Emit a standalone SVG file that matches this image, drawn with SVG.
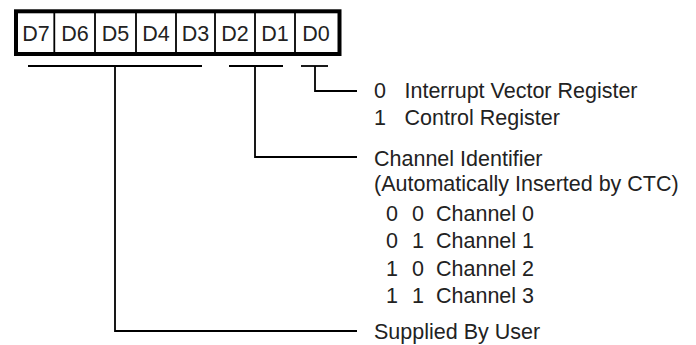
<svg xmlns="http://www.w3.org/2000/svg" width="696" height="345" viewBox="0 0 696 345">
<style>
  .t { font-family: "Liberation Sans", Arial, Helvetica, sans-serif; font-size: 21.5px; fill: #222; }
  .c { text-anchor: middle; }
  .ln { stroke: #000; stroke-width: 1.8; fill: none; }
</style>
<rect width="696" height="345" fill="#fff"/>
<g id="register">
  <rect x="16" y="11.3" width="323.5" height="42.7" fill="#fff" stroke="#000" stroke-width="4"/>
  <g class="ln">
    <line x1="54.3" y1="13" x2="54.3" y2="52"/>
    <line x1="95" y1="13" x2="95" y2="52"/>
    <line x1="136" y1="13" x2="136" y2="52"/>
    <line x1="176" y1="13" x2="176" y2="52"/>
    <line x1="215" y1="13" x2="215" y2="52"/>
    <line x1="255" y1="13" x2="255" y2="52"/>
    <line x1="295" y1="13" x2="295" y2="52"/>
  </g>
  <text class="t c" x="36" y="40.5">D7</text>
  <text class="t c" x="75" y="40.5">D6</text>
  <text class="t c" x="115.5" y="40.5">D5</text>
  <text class="t c" x="156" y="40.5">D4</text>
  <text class="t c" x="195.5" y="40.5">D3</text>
  <text class="t c" x="235" y="40.5">D2</text>
  <text class="t c" x="275" y="40.5">D1</text>
  <text class="t c" x="316" y="40.5">D0</text>
</g>
<g id="connectors" class="ln">
  <line x1="28" y1="66" x2="202" y2="66"/>
  <polyline points="115,66 115,331 357,331"/>
  <line x1="229" y1="66" x2="283" y2="66"/>
  <polyline points="255,66 255,157 357,157"/>
  <line x1="301" y1="66" x2="328" y2="66"/>
  <polyline points="315,66 315,91 357,91"/>
</g>
<g id="d0-label">
  <text class="t" x="374" y="98">0</text>
  <text class="t" x="404.5" y="98">Interrupt Vector Register</text>
  <text class="t" x="374" y="124.5">1</text>
  <text class="t" x="404.5" y="124.5">Control Register</text>
</g>
<g id="channel-label">
  <text class="t" x="374" y="165.5">Channel Identifier</text>
  <text class="t" x="374" y="191">(Automatically Inserted by CTC)</text>
  <text class="t" x="386" y="220.5">0</text><text class="t" x="412" y="220.5">0</text><text class="t" x="436" y="220.5">Channel 0</text>
  <text class="t" x="386" y="248">0</text><text class="t" x="412" y="248">1</text><text class="t" x="436" y="248">Channel 1</text>
  <text class="t" x="386" y="275.5">1</text><text class="t" x="412" y="275.5">0</text><text class="t" x="436" y="275.5">Channel 2</text>
  <text class="t" x="386" y="303">1</text><text class="t" x="412" y="303">1</text><text class="t" x="436" y="303">Channel 3</text>
</g>
<g id="user-label">
  <text class="t" x="374" y="339">Supplied By User</text>
</g>
</svg>
